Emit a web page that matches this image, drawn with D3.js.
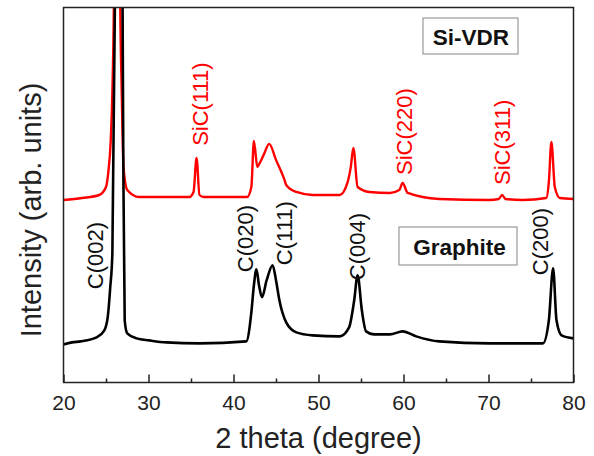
<!DOCTYPE html>
<html>
<head>
<meta charset="utf-8">
<script src="https://cdn.jsdelivr.net/npm/d3@7/dist/d3.min.js"></script>
<style>
  body { margin: 0; background: #fff; }
  svg { display: block; font-family: "Liberation Sans", Arial, sans-serif; }
</style>
</head>
<body>
<div id="viz"></div>
<script>
// 2 theta (degree) / intensity (arb. units)
const graphiteTheta = [20, 21, 22, 23.9, 24.8, 25.2, 25.5, 25.75, 26.05, 26.5, 26.95, 27.05, 27.2, 27.5, 28.6, 30.1, 32.1, 36, 41.5,
  42.1, 42.4, 42.7, 43.0, 43.35, 43.9, 44.6, 45.0, 45.4, 46.2, 47.4, 49.3, 52.5, 53.6, 54.2, 54.6, 55.1, 55.6, 56.5,
  58.4, 59.9, 61.5, 64.2, 70.1, 76.4, 77.1, 77.6, 78.0, 78.6, 80];
const graphiteInt = [38, 40, 41, 45, 52, 65, 95, 129, 380, 1500, 380, 200, 62, 49, 44, 42, 40, 39, 41,
  70, 97, 113, 97, 85, 102, 117, 102, 82, 60, 50, 47, 46, 55, 82, 107, 72, 51, 48,
  48, 51, 46, 41, 39, 39, 62, 114, 62, 47, 44];

const sivdrTheta = [20, 22.2, 24.2, 25.0, 25.3, 25.55, 25.75, 25.95, 26.3, 26.65, 26.85, 27.06, 27.5, 28.9, 34.8, 35.3, 35.65, 36.0, 36.5,
  41.6, 42.1, 42.4, 42.8, 43.1, 43.6, 44.2, 45.0, 46.0, 46.2, 47.4, 49.3, 52.5, 53.4, 53.8, 54.1, 54.6, 56.0,
  58.4, 59.5, 59.9, 60.5, 64.2, 70.1, 71.2, 71.6, 72.0, 74.0, 76.8, 77.1, 77.4, 77.8, 78.4, 80];
const sivdrInt = [182, 184, 187, 195, 212, 240, 290, 400, 1500, 400, 290, 215, 192, 185, 185, 190, 224, 187, 185,
  185, 195, 241, 215, 219, 228, 238, 222, 202, 197, 190, 187, 187, 199, 215, 234, 195, 190,
  189, 192, 199, 189, 183, 182, 183, 187, 183, 182, 184, 200, 240, 195, 184, 183];

const majorTicks = [20, 30, 40, 50, 60, 70, 80];
const minorTicks = [25, 35, 45, 55, 65, 75];

const graphiteLabels = [
  {text: "C(002)", theta: 24.65, at: 93},
  {text: "C(020)", theta: 42.3, at: 110},
  {text: "C(111)", theta: 46.9, at: 117},
  {text: "C(004)", theta: 55.5, at: 102},
  {text: "C(200)", theta: 77.0, at: 107}
];
const sivdrLabels = [
  {text: "SiC(111)", theta: 37.0, at: 236},
  {text: "SiC(220)", theta: 61.0, at: 207},
  {text: "SiC(311)", theta: 72.5, at: 197}
];

const width = 594, height = 456;
const margin = {top: 7.5, right: 20.5, bottom: 73.5, left: 63.5};

const svg = d3.select('#viz').append('svg')
  .attr('width', width)
  .attr('height', height)
  .attr('role', 'img')
  .attr('aria-label', 'XRD patterns of Si-VDR and graphite');

const x = d3.scaleLinear().domain([20, 80]).range([margin.left, width - margin.right]);
const y = d3.scaleLinear().domain([0, 374]).range([height - margin.bottom, margin.top]);

svg.append('clipPath').attr('id', 'plot-clip')
  .append('rect')
  .attr('x', margin.left).attr('y', margin.top)
  .attr('width', x(80) - x(20)).attr('height', y(0) - y(374));

const line = d3.line()
  .x(d => x(d[0]))
  .y(d => y(d[1]))
  .curve(d3.curveMonotoneX);

const g = svg.append('g').attr('clip-path', 'url(#plot-clip)');
g.append('path')
  .datum(d3.zip(sivdrTheta, sivdrInt))
  .attr('d', line)
  .attr('fill', 'none')
  .attr('stroke', '#f00')
  .attr('stroke-width', 2.4)
  .attr('stroke-linejoin', 'round');
g.append('path')
  .datum(d3.zip(graphiteTheta, graphiteInt))
  .attr('d', line)
  .attr('fill', 'none')
  .attr('stroke', '#000')
  .attr('stroke-width', 2.6)
  .attr('stroke-linejoin', 'round');

// frame
svg.append('rect')
  .attr('x', margin.left).attr('y', margin.top)
  .attr('width', x(80) - x(20)).attr('height', y(0) - y(374))
  .attr('fill', 'none').attr('stroke', '#222').attr('stroke-width', 1.5);

// bottom axis, ticks pointing in
const xAxis = svg.append('g')
  .attr('transform', `translate(0,${y(0)})`)
  .call(d3.axisBottom(x).tickValues(majorTicks).tickSize(-8).tickPadding(13).tickFormat(d3.format('d')));
xAxis.select('.domain').remove();
xAxis.selectAll('line').attr('stroke', '#222').attr('stroke-width', 1.5);
xAxis.selectAll('text').attr('font-size', 21).attr('fill', '#222')
  .attr('font-family', '"Liberation Sans", Arial, sans-serif');

const xMinor = svg.append('g')
  .attr('transform', `translate(0,${y(0)})`)
  .call(d3.axisBottom(x).tickValues(minorTicks).tickSize(-4).tickFormat(''));
xMinor.select('.domain').remove();
xMinor.selectAll('line').attr('stroke', '#222').attr('stroke-width', 1.5);

// axis titles
svg.append('text')
  .attr('x', (x(20) + x(80)) / 2).attr('y', 448)
  .attr('text-anchor', 'middle')
  .attr('font-size', 29).attr('fill', '#222')
  .text('2 theta (degree)');
svg.append('text')
  .attr('transform', 'translate(41,210) rotate(-90)')
  .attr('text-anchor', 'middle')
  .attr('font-size', 29).attr('fill', '#222')
  .text('Intensity (arb. units)');

// peak labels
function peakLabels(list, color) {
  svg.selectAll(null)
    .data(list)
    .join('text')
    .attr('transform', d => `translate(${x(d.theta)},${y(d.at)}) rotate(-90)`)
    .attr('font-size', 22)
    .attr('fill', color)
    .text(d => d.text);
}
peakLabels(graphiteLabels, '#111');
peakLabels(sivdrLabels, '#f00');

// sample boxes
function sampleBox(label, x0, y0, w, h, tx, ty) {
  svg.append('rect')
    .attr('x', x0).attr('y', y0).attr('width', w).attr('height', h)
    .attr('fill', '#fff').attr('stroke', '#999').attr('stroke-width', 1.2);
  svg.append('text')
    .attr('x', tx).attr('y', ty)
    .attr('text-anchor', 'middle')
    .attr('font-size', 22.5).attr('font-weight', 'bold').attr('fill', '#111')
    .text(label);
}
sampleBox('Si-VDR', 423, 18, 95, 36, 471, 45);
sampleBox('Graphite', 399, 227, 118, 38, 459.5, 255);
</script>
</body>
</html>
